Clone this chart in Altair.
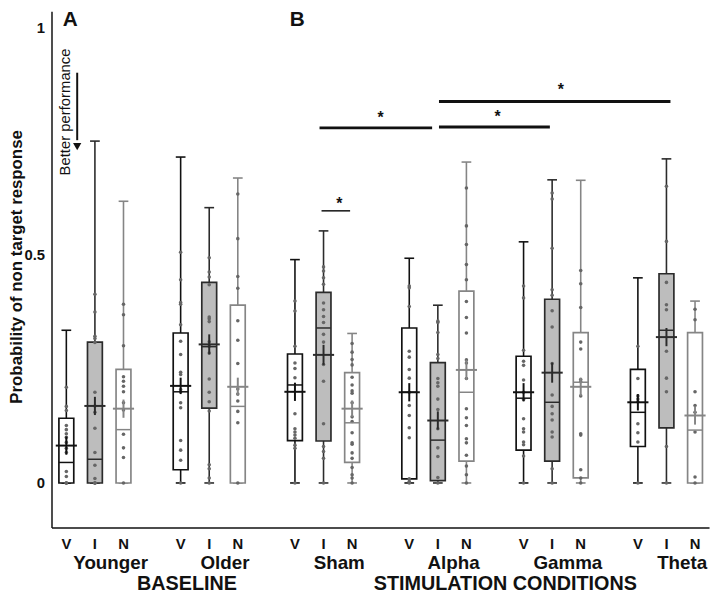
import altair as alt
import pandas as pd

GROUPS = ["Younger", "Older", "Sham", "Alpha", "Gamma", "Theta"]
CONDS = ["V", "I", "N"]
SECTIONS = ["BASELINE", "STIMULATION CONDITIONS"]
SECTION_POS = [4.22, 15.36]

# box statistics, order: Younger V,I,N, Older V,I,N, Sham..., Alpha..., Gamma..., Theta...
MINS = [0.0] * 18
Q1 = [0.0, 0.0, 0.0, 0.029, 0.164, 0.0, 0.093, 0.092, 0.045, 0.009, 0.005, 0.048,
      0.072, 0.048, 0.011, 0.080, 0.121, 0.0]
MEDIANS = [0.045, 0.052, 0.117, 0.200, 0.299, 0.168, 0.215, 0.340, 0.132, 0.199, 0.094, 0.199,
           0.186, 0.177, 0.221, 0.155, 0.335, 0.116]
Q3 = [0.142, 0.309, 0.249, 0.329, 0.440, 0.390, 0.283, 0.418, 0.242, 0.340, 0.264, 0.421,
      0.278, 0.403, 0.330, 0.249, 0.459, 0.330]
MAXS = [0.335, 0.750, 0.618, 0.715, 0.604, 0.669, 0.490, 0.553, 0.328, 0.493, 0.390, 0.704,
        0.529, 0.665, 0.664, 0.450, 0.711, 0.399]
MEANS = [0.082, 0.169, 0.163, 0.213, 0.304, 0.211, 0.200, 0.281, 0.163, 0.199, 0.137, 0.248,
         0.199, 0.242, 0.211, 0.177, 0.320, 0.148]
SEMS = [0.020, 0.020, 0.020, 0.018, 0.022, 0.020, 0.020, 0.022, 0.018, 0.020, 0.020, 0.022,
        0.020, 0.022, 0.020, 0.018, 0.020, 0.020]

# individual participants
YOUNGER_V = [0.210, 0.168, 0.159, 0.126, 0.117, 0.108, 0.100, 0.089, 0.076, 0.067, 0.025, 0.014, 0, 0, 0]
YOUNGER_I = [0.414, 0.375, 0.322, 0.317, 0.308, 0.199, 0.169, 0.155, 0.120, 0.067, 0.039, 0.010, 0, 0, 0]
YOUNGER_N = [0.392, 0.369, 0.301, 0.233, 0.223, 0.212, 0.200, 0.176, 0.160, 0.107, 0.077, 0.056, 0]
OLDER_V = [0.506, 0.446, 0.396, 0.392, 0.347, 0.311, 0.282, 0.243, 0.238, 0.205, 0.200, 0.176, 0.165,
           0.093, 0.072, 0.050, 0]
OLDER_I = [0.494, 0.463, 0.452, 0.435, 0.364, 0.360, 0.354, 0.310, 0.300, 0.285, 0.228, 0.199, 0.178,
           0.158, 0.040, 0.031, 0.011, 0]
OLDER_N = [0.634, 0.536, 0.453, 0.427, 0.356, 0.313, 0.262, 0.206, 0.195, 0.180, 0.157, 0.132, 0]
SHAM_V = [0.399, 0.377, 0.300, 0.263, 0.251, 0.231, 0.152, 0.119, 0.112, 0.105, 0.098, 0.083, 0.076, 0]
SHAM_I = [0.474, 0.465, 0.450, 0.436, 0.395, 0.380, 0.365, 0.352, 0.326, 0.309, 0.260, 0.223, 0.130,
          0.080, 0.069, 0.054, 0]
SHAM_N = [0.306, 0.287, 0.271, 0.259, 0.232, 0.215, 0.202, 0.197, 0.176, 0.145, 0.135, 0.110, 0.088,
          0.085, 0.066, 0.054, 0.034, 0.018, 0.011, 0]
ALPHA_V = [0.432, 0.428, 0.387, 0.289, 0.276, 0.249, 0.230, 0.199, 0.170, 0.148, 0.121, 0.099, 0.009, 0.003, 0]
ALPHA_I = [0.355, 0.352, 0.330, 0.282, 0.273, 0.229, 0.220, 0.212, 0.184, 0.161, 0.119, 0.077, 0.058, 0.012, 0]
ALPHA_N = [0.647, 0.564, 0.523, 0.479, 0.446, 0.398, 0.363, 0.329, 0.270, 0.263, 0.229, 0.163, 0.143,
           0.126, 0.097, 0.088, 0.061, 0.037, 0.018, 0]
GAMMA_V = [0.432, 0.406, 0.291, 0.267, 0.258, 0.226, 0.199, 0.183, 0.141, 0.119, 0.112, 0.090, 0.084, 0.059, 0]
GAMMA_I = [0.636, 0.623, 0.515, 0.424, 0.412, 0.378, 0.342, 0.262, 0.193, 0.168, 0.152, 0.138, 0.112,
           0.101, 0.031, 0]
GAMMA_N = [0.466, 0.437, 0.385, 0.309, 0.294, 0.227, 0.222, 0.191, 0.108, 0.105, 0.029, 0.011, 0]
THETA_V = [0.300, 0.229, 0.191, 0.184, 0.178, 0.130, 0.110, 0.090, 0]
THETA_I = [0.651, 0.530, 0.440, 0.391, 0.380, 0.289, 0.230, 0.200, 0.080, 0]
THETA_N = [0.381, 0.358, 0.200, 0.170, 0.155, 0.112, 0.013, 0]

DOTS = [YOUNGER_V, YOUNGER_I, YOUNGER_N, OLDER_V, OLDER_I, OLDER_N, SHAM_V, SHAM_I, SHAM_N,
        ALPHA_V, ALPHA_I, ALPHA_N, GAMMA_V, GAMMA_I, GAMMA_N, THETA_V, THETA_I, THETA_N]

# significance bars (x in slot units, y in probability)
SIG_X1 = [8.86, 13.04, 13.04]
SIG_X2 = [12.80, 16.92, 21.14]
SIG_Y = [0.779, 0.781, 0.837]
SIG_STAR_X = [11.0, 15.09, 17.3]
SIG_STAR_Y = [0.807, 0.809, 0.868]
SMALL_X1 = [8.93]
SMALL_X2 = [9.93]
SMALL_Y = [0.597]
SMALL_STAR_X = [9.55]
SMALL_STAR_Y = [0.618]

FONT = "Liberation Sans"
STROKES = ["#111111", "#2b2b2b", "#858585"]
FILLS = ["#ffffff", "#bdbdbd", "#ffffff"]

rows, dots, labs = [], [], []
for gi, g in enumerate(GROUPS):
    for ci, c in enumerate(CONDS):
        k = gi * 3 + ci
        xpos = gi * 4 + ci
        rows.append(dict(group=g, cond=c, x=xpos, mn=MINS[k], q1=Q1[k], med=MEDIANS[k], q3=Q3[k],
                         mx=MAXS[k], mean=MEANS[k], sem=SEMS[k]))
        for v in DOTS[k]:
            dots.append(dict(x=xpos, cond=c, v=v))
        labs.append(dict(x=xpos, t=c))
stats = pd.DataFrame(rows)
dots_df = pd.DataFrame(dots)
lab_df = pd.DataFrame(labs)
grp_df = pd.DataFrame(dict(x=[gi * 4 + 1.55 for gi in range(len(GROUPS))], t=GROUPS))
sec_df = pd.DataFrame(dict(x=SECTION_POS, t=SECTIONS))

XS = alt.Scale(domain=[-0.519, 22.49], nice=False, zero=False)
YS = alt.Scale(domain=[-0.0976, 1.0347], nice=False, zero=False)
XAX = alt.Axis(title=None, labels=False, ticks=False, grid=False, domainColor="#111", domainWidth=1.5)
YAX = alt.Axis(title="Probability of non target response", values=[0, 0.5, 1], labelExpr="'' + datum.value",
               ticks=False, tickSize=0, grid=False, labelPadding=7, labelFontSize=15, labelFontWeight="bold",
               labelFont=FONT, labelColor="#111", domainColor="#111", domainWidth=1.5,
               titleFont=FONT, titleFontSize=17, titleFontWeight="bold", titleColor="#111",
               titleAngle=270, titleX=-35, titleY=258, titleAlign="center", titleBaseline="middle")


def X(f):
    return alt.X(f, scale=XS, axis=XAX)


def Y(f):
    return alt.Y(f, scale=YS, axis=YAX)


STROKE = alt.Stroke("cond:N", scale=alt.Scale(domain=CONDS, range=STROKES), legend=None)
FILL = alt.Fill("cond:N", scale=alt.Scale(domain=CONDS, range=FILLS), legend=None)

base = alt.Chart(stats)

whisk = base.mark_rule(strokeWidth=1.6).encode(x=X("x:Q"), y=Y("mn:Q"), y2="mx:Q", stroke=STROKE)
caps_top = base.mark_rule(strokeWidth=1.6).transform_calculate(
    xa="datum.x - 0.17", xb="datum.x + 0.17").encode(x=X("xa:Q"), x2="xb:Q", y=Y("mx:Q"), stroke=STROKE)
caps_bot = base.mark_rule(strokeWidth=1.6).transform_calculate(
    xa="datum.x - 0.17", xb="datum.x + 0.17").encode(x=X("xa:Q"), x2="xb:Q", y=Y("mn:Q"), stroke=STROKE)
box = base.mark_rect(strokeWidth=1.7).transform_calculate(
    xa="datum.x - 0.26", xb="datum.x + 0.26").encode(x=X("xa:Q"), x2="xb:Q", y=Y("q1:Q"), y2="q3:Q",
                                                      fill=FILL, stroke=STROKE)
pts = alt.Chart(dots_df).mark_circle(size=13, color="#666666", opacity=1).encode(x=X("x:Q"), y=Y("v:Q"))
med = base.mark_rule(strokeWidth=1.5).transform_calculate(
    xa="datum.x - 0.26", xb="datum.x + 0.26").encode(x=X("xa:Q"), x2="xb:Q", y=Y("med:Q"), stroke=STROKE)
mean = base.mark_rule(strokeWidth=2).transform_calculate(
    xa="datum.x - 0.37", xb="datum.x + 0.37").encode(x=X("xa:Q"), x2="xb:Q", y=Y("mean:Q"), stroke=STROKE)
sem = base.mark_rule(strokeWidth=2).transform_calculate(
    lo="datum.mean - datum.sem", hi="datum.mean + datum.sem").encode(x=X("x:Q"), y=Y("lo:Q"), y2="hi:Q",
                                                                    stroke=STROKE)

sig_df = pd.DataFrame(dict(x1=SIG_X1, x2=SIG_X2, y=SIG_Y))
sig = alt.Chart(sig_df).mark_rule(strokeWidth=3, color="#111").encode(x=X("x1:Q"), x2="x2:Q", y=Y("y:Q"))
small_df = pd.DataFrame(dict(x1=SMALL_X1, x2=SMALL_X2, y=SMALL_Y))
small = alt.Chart(small_df).mark_rule(strokeWidth=1.5, color="#111").encode(x=X("x1:Q"), x2="x2:Q", y=Y("y:Q"))
star_df = pd.DataFrame(dict(x=SIG_STAR_X + SMALL_STAR_X, y=SIG_STAR_Y + SMALL_STAR_Y, t=["*"] * 4))
stars = alt.Chart(star_df).mark_text(font=FONT, fontSize=16, fontWeight="bold", color="#111",
                                     baseline="middle", dy=3).encode(x=X("x:Q"), y=Y("y:Q"), text="t:N")

# "Better performance" arrow
arrow_df = pd.DataFrame(dict(x=[0.38], y1=[0.900], y2=[0.752], tip=[0.738]))
arrow_line = alt.Chart(arrow_df).mark_rule(strokeWidth=2, color="#111").encode(x=X("x:Q"), y=Y("y1:Q"), y2="y2:Q")
arrow_head = alt.Chart(arrow_df).mark_point(shape="triangle-down", size=70, filled=True, color="#111",
                                            opacity=1).encode(x=X("x:Q"), y=Y("tip:Q"))
bp_df = pd.DataFrame(dict(x=[-0.03], y=[0.814], t=["Better performance"]))
bp = alt.Chart(bp_df).mark_text(font=FONT, fontSize=15, angle=270, align="center", baseline="middle",
                                color="#111").encode(x=X("x:Q"), y=Y("y:Q"), text="t:N")

panel_df = pd.DataFrame(dict(x=[0.14, 8.08], t=["A", "B"]))
panels = alt.Chart(panel_df).mark_text(font=FONT, fontSize=21, fontWeight="bold", align="center",
                                       baseline="middle", color="#111").encode(x=X("x:Q"), y=alt.value(9),
                                                                              text="t:N")

cond_lab = alt.Chart(lab_df).mark_text(font=FONT, fontSize=15, fontWeight="bold", baseline="middle",
                                       color="#111").encode(x=X("x:Q"), y=alt.value(539), text="t:N")
grp_lab = alt.Chart(grp_df).mark_text(font=FONT, fontSize=19, fontWeight="bold", baseline="middle",
                                      color="#111").encode(x=X("x:Q"), y=alt.value(558), text="t:N")
sec_lab = alt.Chart(sec_df).mark_text(font=FONT, fontSize=20, fontWeight="bold", baseline="middle",
                                      color="#111").encode(x=X("x:Q"), y=alt.value(579), text="t:N")

chart = alt.layer(whisk, caps_top, caps_bot, box, pts, med, mean, sem, sig, small, stars,
                  arrow_line, arrow_head, bp, panels, cond_lab, grp_lab, sec_lab).properties(
    width=665, height=522, autosize=alt.AutoSizeParams(type="none"),
    padding={"left": 44, "top": 0, "right": 3, "bottom": 69},
    background="white",
).configure_view(stroke=None)

chart.save("out.html", embed_options={"renderer": "svg", "actions": False})
